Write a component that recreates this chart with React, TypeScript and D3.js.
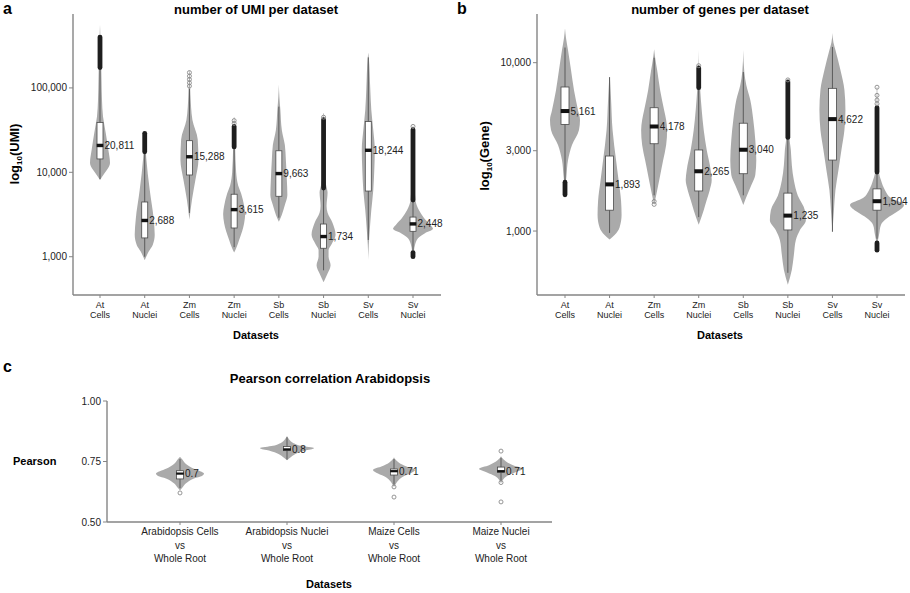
import React from 'react';
import * as d3 from 'd3';

// ---------- shared categories ----------
const datasetLabels: string[][] = [
  ['At', 'Cells'], ['At', 'Nuclei'], ['Zm', 'Cells'], ['Zm', 'Nuclei'],
  ['Sb', 'Cells'], ['Sb', 'Nuclei'], ['Sv', 'Cells'], ['Sv', 'Nuclei'],
];

// ---------- panel a: UMI ----------
// violin outline: [value, relative density]
const umiProfiles: [number, number][][] = [
  [[560000, 0], [300000, 0.8], [126000, 1.5], [72000, 2], [45700, 3], [29500, 5.7], [18600, 8.3], [12900, 10], [10700, 7], [9300, 3.3], [8100, 0]],
  [[30000, 0.3], [15000, 1.5], [6200, 5], [2750, 9], [1820, 10], [1380, 8], [1150, 4], [910, 0]],
  [[160000, 0.3], [83000, 1], [41700, 3], [24500, 8.3], [14100, 9], [8140, 6], [4700, 2.5], [2750, 0]],
  [[45000, 0.3], [20000, 1], [10000, 2], [7000, 4], [5600, 7], [4000, 10], [3200, 11], [2500, 10], [2000, 8], [1580, 5], [1260, 2], [1120, 0]],
  [[110000, 0], [79000, 0.5], [55000, 1.5], [31600, 3], [21000, 6], [14100, 7], [8100, 8], [5400, 8.5], [4100, 6], [3150, 3], [2600, 0]],
  [[50000, 0.3], [10000, 1], [7080, 2.5], [5750, 4], [3980, 3], [3310, 4], [2510, 9], [1820, 12], [1410, 8], [1200, 5], [1000, 5], [794, 7], [631, 4], [500, 0]],
  [[263000, 0], [229000, 0.5], [95500, 2], [55000, 3], [31600, 5], [18600, 6.5], [10700, 6], [6170, 5], [3550, 3], [2090, 1.5], [1380, 0.5], [912, 0]],
  [[35500, 0.3], [10000, 1], [4680, 2.5], [3550, 6], [2880, 11], [2400, 17], [2140, 20], [1900, 12], [1660, 5], [1380, 2], [1050, 0.5], [955, 0]],
];
// [whisker low, q1, median, q3, whisker high]
const umiBoxes: number[][] = [
  [8300, 14400, 20811, 39000, 174000],
  [1000, 1670, 2688, 4450, 17500],
  [3300, 9300, 15288, 23700, 97000],
  [1300, 2190, 3615, 5500, 20000],
  [2900, 5200, 9663, 18000, 60000],
  [690, 1260, 1734, 2440, 6500],
  [1580, 6000, 18244, 40000, 230000],
  [1200, 2000, 2448, 2950, 4700],
];
const umiDense: [number, number][][] = [
  [[174000, 400000]], [[17500, 29000]], [], [[20000, 35000]], [], [[6500, 42000]], [], [[4700, 32000], [1000, 1120]],
];
const umiHollow: number[][] = [
  [], [], [152000, 138000, 126000, 115000, 105000], [41000, 38000], [], [45000], [], [35000],
];
const umiTicks = [1000, 10000, 100000];

// ---------- panel b: genes ----------
const geneProfiles: [number, number][][] = [
  [[16000, 0], [14000, 1], [11900, 3], [9040, 6], [6870, 9], [5220, 13], [4570, 15], [3980, 14], [3240, 7], [2630, 3], [2140, 1.5], [1740, 0]],
  [[8220, 0.3], [6030, 1.5], [3980, 3], [2630, 6.5], [2000, 9], [1510, 11.5], [1245, 12], [1050, 10], [946, 5], [890, 0]],
  [[12000, 0], [10700, 1], [9040, 3], [6870, 6], [5220, 10], [4570, 12], [3980, 13], [3240, 12], [2630, 9], [2140, 6], [1740, 3], [1430, 0]],
  [[11900, 0], [9500, 0.3], [6880, 1.5], [5240, 3], [3980, 5], [3030, 8], [2300, 12], [2010, 13], [1750, 11], [1530, 8], [1330, 5], [1090, 0]],
  [[11900, 0], [8810, 1], [7380, 3], [6000, 7], [4570, 10], [3470, 12], [2630, 13], [2150, 12], [1870, 8], [1640, 4], [1430, 0]],
  [[7900, 0.3], [3630, 1.5], [3020, 3], [2450, 4], [2000, 6], [1620, 10], [1330, 17], [1160, 18], [1010, 12], [885, 8], [720, 6], [590, 4], [480, 0]],
  [[15000, 0], [13200, 1], [11900, 3], [9050, 8], [6880, 12], [5240, 13], [3980, 12], [3030, 9], [2300, 6], [1750, 3], [1330, 1.5], [980, 0]],
  [[7150, 0.3], [2240, 2], [2000, 4], [1750, 8], [1570, 14], [1430, 27], [1300, 20], [1190, 10], [1090, 4], [946, 2], [826, 0]],
];
const geneBoxes: number[][] = [
  [2000, 4300, 5161, 7170, 12300],
  [975, 1330, 1893, 2790, 8200],
  [1630, 3300, 4178, 5400, 10700],
  [1210, 1730, 2265, 3030, 7100],
  [1630, 2190, 3040, 4370, 8800],
  [565, 1015, 1235, 1680, 3600],
  [990, 2640, 4622, 7040, 12400],
  [900, 1330, 1504, 1780, 2240],
];
const geneDense: [number, number][][] = [
  [[1640, 1950]], [], [], [[7100, 9300]], [], [[3600, 7700]], [], [[2240, 5400], [770, 850]],
];
const geneHollow: number[][] = [
  [], [], [1500, 1440], [9600], [], [7900], [], [7150, 6400, 6000, 5700],
];
const geneTicks = [1000, 3000, 10000];

// ---------- panel c: Pearson ----------
const pearsonLabels: string[][] = [
  ['Arabidopsis Cells', 'vs', 'Whole Root'],
  ['Arabidopsis Nuclei', 'vs', 'Whole Root'],
  ['Maize Cells', 'vs', 'Whole Root'],
  ['Maize Nuclei', 'vs', 'Whole Root'],
];
const pearsonProfiles: [number, number][][] = [
  [[0.77, 0], [0.76, 2], [0.74, 6], [0.72, 14], [0.70, 24], [0.69, 22], [0.68, 14], [0.66, 6], [0.64, 2], [0.63, 0]],
  [[0.855, 0], [0.845, 1.5], [0.83, 5], [0.815, 14], [0.805, 27], [0.795, 18], [0.78, 8], [0.765, 3], [0.755, 0]],
  [[0.768, 0], [0.76, 1], [0.745, 5], [0.73, 12], [0.715, 21], [0.70, 16], [0.685, 8], [0.67, 4], [0.655, 1.5], [0.645, 0]],
  [[0.772, 0], [0.765, 1], [0.75, 5], [0.735, 12], [0.72, 22], [0.705, 14], [0.69, 6], [0.675, 2], [0.66, 0]],
];
const pearsonBoxes: number[][] = [
  [0.64, 0.678, 0.7, 0.712, 0.76],
  [0.758, 0.795, 0.8, 0.812, 0.85],
  [0.655, 0.694, 0.71, 0.719, 0.76],
  [0.67, 0.705, 0.71, 0.727, 0.765],
];
const pearsonHollow: number[][] = [[0.62], [], [0.645, 0.603], [0.793, 0.663, 0.583]];
const pearsonTicks = [0.5, 0.75, 1.0];

const FONT = "'Liberation Sans', Arial, Helvetica, sans-serif";
const VIOLIN = '#aaaaaa';
const AXIS = '#858585';

type ViolinProps = {
  x: d3.ScalePoint<string>;
  y: (v: number) => number;
  w: d3.ScaleLinear<number, number>;
  keys: string[];
  profiles: [number, number][][];
  boxes: number[][];
  dense: [number, number][][];
  hollow: number[][];
  boxHalf: number;
  medH: number;
  fmt: (v: number) => string;
};

function Violins(p: ViolinProps) {
  return (
    <g>
      {p.keys.map((k, i) => {
        const cx = p.x(k) as number;
        const area = d3
          .area<[number, number]>()
          .y((d) => p.y(d[0]))
          .x0((d) => cx - p.w(d[1]))
          .x1((d) => cx + p.w(d[1]))
          .curve(d3.curveMonotoneY);
        const [lo, q1, med, q3, hi] = p.boxes[i];
        return (
          <g key={k}>
            <path d={area(p.profiles[i]) || ''} fill={VIOLIN} stroke="none" />
            <line x1={cx} x2={cx} y1={p.y(hi)} y2={p.y(lo)} stroke="#5a5a5a" strokeWidth={1} />
            {p.dense[i].map((r, j) => (
              <rect key={j} x={cx - 2.4} width={4.8} y={p.y(r[1]) - 2.4} height={p.y(r[0]) - p.y(r[1]) + 4.8} rx={2.4} fill="#1e1e1e" />
            ))}
            {p.hollow[i].map((v, j) => (
              <circle key={j} cx={cx} cy={p.y(v)} r={2} fill="none" stroke="#8a8a8a" strokeWidth={0.9} />
            ))}
            <rect x={cx - p.boxHalf} width={p.boxHalf * 2} y={p.y(q3)} height={p.y(q1) - p.y(q3)} fill="#fff" stroke="#4a4a4a" strokeWidth={0.8} />
            <rect x={cx - p.boxHalf - 0.3} width={p.boxHalf * 2 + 0.6} y={p.y(med) - p.medH / 2} height={p.medH} fill="#111" />
            <text x={cx + p.boxHalf + 1.5} y={p.y(med)} dominantBaseline="central" fontSize={10} fill="#222">
              {p.fmt(med)}
            </text>
          </g>
        );
      })}
    </g>
  );
}

export default function App() {
  // ---- panel a ----
  const keysA = datasetLabels.map((d) => d.join(' '));
  const xA = d3.scalePoint<string>().domain(keysA).range([100, 413]);
  const yA = d3.scaleLog().domain([352, 751000]).range([295, 14]);
  const wA = d3.scaleLinear().domain([0, 20]).range([0, 20]);
  // ---- panel b ----
  const xB = d3.scalePoint<string>().domain(keysA).range([565, 877]);
  const yB = d3.scaleLog().domain([417, 19460]).range([295, 14]);
  const wB = d3.scaleLinear().domain([0, 27]).range([0, 27]);
  // ---- panel c ----
  const keysC = pearsonLabels.map((d) => d.join(' '));
  const xC = d3.scalePoint<string>().domain(keysC).range([180, 501]);
  const yC = d3.scaleLinear().domain([0.5, 1.0]).range([522, 401]);
  const wC = d3.scaleLinear().domain([0, 27]).range([0, 27]);

  const fmtComma = d3.format(',');
  const fmtC = d3.format('.2f');

  const xAxis = (x: d3.ScalePoint<string>, keys: string[], labels: string[][], x0: number, x1: number, y0: number, lineH: number, firstDy: number, fs: number) => (
    <g>
      <line x1={x0} x2={x1} y1={y0} y2={y0} stroke={AXIS} strokeWidth={1.4} />
      {keys.map((k, i) => (
        <g key={k}>
          <line x1={x(k)} x2={x(k)} y1={y0} y2={y0 + 3} stroke={AXIS} strokeWidth={1} />
          <text x={x(k)} textAnchor="middle" fontSize={fs} fill="#222">
            {labels[i].map((t, j) => (
              <tspan key={j} x={x(k)} y={y0 + firstDy + j * lineH}>{t}</tspan>
            ))}
          </text>
        </g>
      ))}
    </g>
  );

  const yAxis = (y: (v: number) => number, ticks: number[], fmt: (v: number) => string, ax: number, top: number, bottom: number) => (
    <g>
      <line x1={ax} x2={ax} y1={top} y2={bottom} stroke={AXIS} strokeWidth={1.4} />
      {ticks.map((t) => (
        <g key={t}>
          <line x1={ax - 4} x2={ax} y1={y(t)} y2={y(t)} stroke={AXIS} strokeWidth={1} />
          <text x={ax - 6} y={y(t)} dominantBaseline="central" textAnchor="end" fontSize={10} fill="#222">
            {fmt(t)}
          </text>
        </g>
      ))}
    </g>
  );

  return (
    <div style={{ position: 'absolute', left: 0, top: 0 }}>
      <svg width={910} height={593} style={{ display: 'block', background: '#fff' }} fontFamily={FONT}>
        {/* panel letters */}
        <text x={3} y={14} fontSize={16} fontWeight="bold">a</text>
        <text x={457} y={14} fontSize={16} fontWeight="bold">b</text>
        <text x={3} y={372} fontSize={16} fontWeight="bold">c</text>

        {/* ---- panel a ---- */}
        <text x={256} y={14} textAnchor="middle" fontSize={13} fontWeight="bold">number of UMI per dataset</text>
        <text transform="translate(19,154) rotate(-90)" textAnchor="middle" fontSize={13} fontWeight="bold">
          log<tspan fontSize={8} dy={3}>10</tspan><tspan dy={-3}>(UMI)</tspan>
        </text>
        {yAxis(yA, umiTicks, fmtComma, 73, 14, 295)}
        {xAxis(xA, keysA, datasetLabels, 73, 441, 295, 10.5, 12.5, 9)}
        <text x={256} y={339} textAnchor="middle" fontSize={11} fontWeight="bold">Datasets</text>
        <Violins x={xA} y={yA} w={wA} keys={keysA} profiles={umiProfiles} boxes={umiBoxes} dense={umiDense} hollow={umiHollow} boxHalf={3} medH={3.4} fmt={fmtComma} />

        {/* ---- panel b ---- */}
        <text x={720} y={14} textAnchor="middle" fontSize={13} fontWeight="bold">number of genes per dataset</text>
        <text transform="translate(489,156) rotate(-90)" textAnchor="middle" fontSize={13} fontWeight="bold">
          log<tspan fontSize={8} dy={3}>10</tspan><tspan dy={-3}>(Gene)</tspan>
        </text>
        {yAxis(yB, geneTicks, fmtComma, 537, 14, 295)}
        {xAxis(xB, keysA, datasetLabels, 537, 905, 295, 10.5, 12.5, 9)}
        <text x={720} y={339} textAnchor="middle" fontSize={11} fontWeight="bold">Datasets</text>
        <Violins x={xB} y={yB} w={wB} keys={keysA} profiles={geneProfiles} boxes={geneBoxes} dense={geneDense} hollow={geneHollow} boxHalf={4} medH={4} fmt={fmtComma} />

        {/* ---- panel c ---- */}
        <text x={330} y={383} textAnchor="middle" fontSize={13} fontWeight="bold">Pearson correlation Arabidopsis</text>
        <text x={13} y={465} fontSize={11} fontWeight="bold">Pearson</text>
        {yAxis(yC, pearsonTicks, fmtC, 107, 401, 522)}
        {xAxis(xC, keysC, pearsonLabels, 107, 552, 522, 13.5, 13, 10)}
        <text x={329} y={588} textAnchor="middle" fontSize={11} fontWeight="bold">Datasets</text>
        <Violins x={xC} y={yC} w={wC} keys={keysC} profiles={pearsonProfiles} boxes={pearsonBoxes} dense={pearsonProfiles.map(() => [])} hollow={pearsonHollow} boxHalf={3.5} medH={2.2} fmt={(v) => String(v)} />
      </svg>
    </div>
  );
}
